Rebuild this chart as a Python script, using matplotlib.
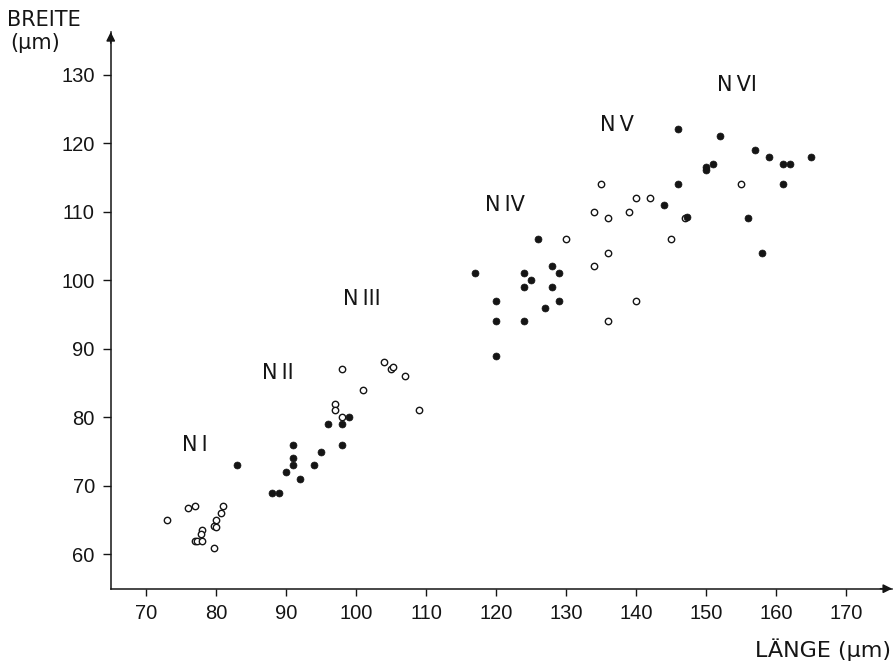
import matplotlib
matplotlib.use("Agg")
import matplotlib.pyplot as plt
from matplotlib import font_manager

# ---- data ----
solid_x = [83, 88, 89, 90, 91, 91, 91, 92, 94, 95, 96, 98, 98, 99,
           117, 120, 120, 120, 124, 125, 124, 124, 126, 128, 129, 128, 129, 127,
           146, 152, 150, 150, 151, 146, 144, 147.3, 156, 157, 159, 161, 162, 165, 161, 158]
solid_y = [73, 69, 69, 72, 76, 74, 73, 71, 73, 75, 79, 79, 76, 80,
           101, 97, 94, 89, 101, 100, 99, 94, 106, 102, 101, 99, 97, 96,
           122, 121, 116, 116.5, 117, 114, 111, 109.2, 109, 119, 118, 117, 117, 118, 114, 104]

open_x = [73, 76, 77, 81, 80.7, 80, 79.7, 80, 78, 77.8, 77, 77.3, 78, 79.7,
          97, 97, 98, 98, 101, 104, 105, 105.3, 107, 109,
          130, 134, 136, 136, 135, 140, 142, 134, 136, 139, 140, 145, 147, 155]
open_y = [65, 66.7, 67, 67, 66, 65, 64.1, 64, 63.5, 63, 62, 62, 62, 61,
          82, 81, 80, 87, 84, 88, 87, 87.3, 86, 81,
          106, 102, 104, 94, 114, 112, 112, 110, 109, 110, 97, 106, 109, 114]

group_labels = ["N\u2009I", "N\u2009II", "N\u2009III", "N\u2009IV", "N\u2009V", "N\u2009VI"]
group_label_x = [77, 88.9, 100.9, 121.3, 137.3, 154.4]
group_label_y = [75.9, 86.5, 97.2, 111, 122.6, 128.4]

x_ticks = [70, 80, 90, 100, 110, 120, 130, 140, 150, 160, 170]
y_ticks = [60, 70, 80, 90, 100, 110, 120, 130]

# ---- fonts ----
names = {f.name for f in font_manager.fontManager.ttflist}
if "Liberation Sans Narrow" in names:
    tick_font = "Liberation Sans Narrow"
    tick_size = 16.5
else:
    tick_font = "Liberation Sans"
    tick_size = 14.5
text_font = "DejaVu Sans"
ink = "#151515"

fig = plt.figure(figsize=(8.93, 6.64), dpi=100)
ax = fig.add_axes([0.124, 0.1134, 0.875, 0.8384])
ax.set_xlim(64.96, 176.6)
ax.set_ylim(55, 136.2)

ax.plot(open_x, open_y, linestyle="none", marker="o", ms=4.6, mfc="white",
        mec=ink, mew=1.0, zorder=3)
ax.plot(solid_x, solid_y, linestyle="none", marker="o", ms=5.0, mfc=ink,
        mec=ink, mew=0.5, zorder=4)

for lab, lx, ly in zip(group_labels, group_label_x, group_label_y):
    ax.text(lx, ly, lab, ha="center", va="center", fontsize=15,
            family=text_font, color=ink)

for s in ("top", "right"):
    ax.spines[s].set_visible(False)
for s in ("left", "bottom"):
    ax.spines[s].set_linewidth(1.1)
    ax.spines[s].set_color(ink)

ax.set_xticks(x_ticks)
ax.set_yticks(y_ticks)
ax.set_xticklabels([str(v) for v in x_ticks], family=tick_font, fontsize=tick_size, color=ink)
ax.set_yticklabels([str(v) for v in y_ticks], family=tick_font, fontsize=tick_size, color=ink)
ax.tick_params(axis="x", direction="out", length=5, width=1.0, pad=6, color=ink)
ax.tick_params(axis="y", direction="out", length=5.5, width=1.0, pad=6, color=ink)

# arrow heads on the axes
ax.annotate("", xy=(1.0, 0), xytext=(0.985, 0), xycoords="axes fraction",
            arrowprops=dict(arrowstyle="-|>", color=ink, lw=1.1,
                            mutation_scale=13, shrinkA=0, shrinkB=0),
            annotation_clip=False)
ax.annotate("", xy=(0, 1.0), xytext=(0, 0.98), xycoords="axes fraction",
            arrowprops=dict(arrowstyle="-|>", color=ink, lw=1.1,
                            mutation_scale=13, shrinkA=0, shrinkB=0),
            annotation_clip=False)

fig.text(7 / 893, 1 - 10 / 664, "BREITE", ha="left", va="top", fontsize=15,
         family=text_font, color=ink)
fig.text(10 / 893, 1 - 33 / 664, "(µm)", ha="left", va="top", fontsize=15,
         family=text_font, color=ink)
fig.text(891 / 893, 1 - 657 / 664, "LÄNGE (µm)", ha="right", va="baseline",
         fontsize=16, family=text_font, color=ink)

fig.savefig("out.png", dpi=100, facecolor="white")
